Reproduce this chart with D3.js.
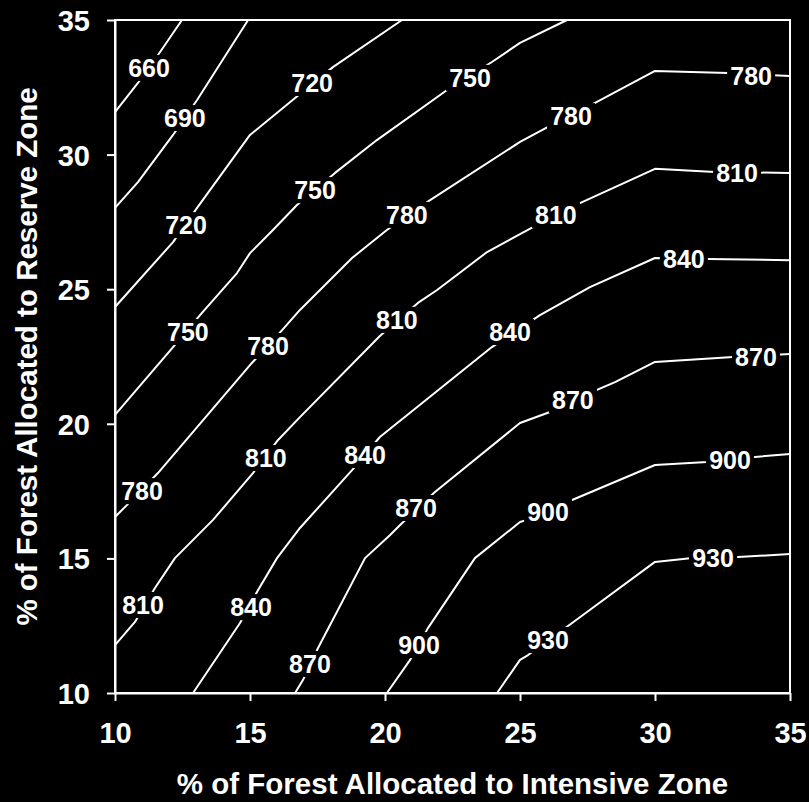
<!DOCTYPE html>
<html>
<head>
<meta charset="utf-8">
<script src="https://cdn.jsdelivr.net/npm/d3@7"></script>
<style>
  html, body { margin: 0; padding: 0; background: #000; }
  svg { display: block; }
  text { font-family: "Liberation Sans", Arial, sans-serif; font-weight: bold; fill: #fff; }
</style>
</head>
<body>
<script>
// ---- Data (x = % Intensive Zone, y = % Reserve Zone) ----
const xTicks = [10, 15, 20, 25, 30, 35];
const yTicks = [10, 15, 20, 25, 30, 35];
const levels = [660, 690, 720, 750, 780, 810, 840, 870, 900, 930];

const line660 = [[10, 31.58], [10.85, 32.66], [11.67, 33.81], [12.48, 35]];
const line690 = [[10, 28.02], [10.85, 28.98], [12.15, 30.73], [13.04, 32.03], [14.93, 35]];
const line720 = [[10, 24.34], [12.15, 26.75], [13.04, 28.02], [15.0, 30.73], [16.67, 32.10], [18.07, 33.25], [20.63, 35]];
const line750 = [[10, 20.33], [12.15, 22.85], [13.22, 24.12], [14.52, 25.60], [15.0, 26.34], [15.85, 27.20], [16.74, 28.13], [18.15, 29.32], [19.70, 30.54], [22.30, 32.40], [23.96, 33.44], [25.0, 34.15], [26.74, 35]];
const line780 = [[10, 16.54], [10.44, 16.98], [11.59, 18.17], [15.07, 22.26], [16.19, 23.48], [16.85, 24.23], [18.78, 26.16], [20.07, 27.20], [21.67, 28.31], [25.0, 30.47], [26.04, 31.03], [27.78, 31.92], [30.0, 33.11], [32.70, 33.03], [35, 32.92]];
const line810 = [[10, 11.78], [10.74, 12.64], [11.48, 13.90], [12.22, 15.01], [13.63, 16.43], [15.11, 18.17], [16.04, 19.40], [16.85, 20.25], [19.81, 23.26], [21.22, 24.49], [21.93, 24.97], [23.78, 26.38], [25.48, 27.31], [27.22, 28.20], [30.0, 29.47], [32.22, 29.35], [35, 29.32]];
const line840 = [[12.89, 10], [14.63, 12.60], [15.30, 13.83], [16.0, 15.01], [16.85, 16.13], [18.78, 18.28], [19.81, 19.51], [23.96, 22.85], [25.74, 24.04], [27.59, 25.08], [30.0, 26.16], [31.96, 26.12], [35, 26.08]];
const line870 = [[16.67, 10], [16.96, 10.48], [17.52, 11.67], [19.26, 15.01], [20.19, 15.87], [20.56, 16.24], [21.85, 17.47], [25.0, 20.03], [26.11, 20.44], [27.85, 21.26], [28.52, 21.55], [30.0, 22.30], [32.89, 22.48], [35, 22.59]];
const line900 = [[20.07, 10], [20.93, 11.23], [21.59, 12.41], [23.33, 15.01], [25.0, 16.35], [25.26, 16.43], [26.93, 17.17], [30.0, 18.47], [31.93, 18.58], [33.70, 18.77], [35, 18.88]];
const line930 = [[24.15, 10], [25.0, 11.23], [25.30, 11.41], [26.93, 12.60], [30.0, 14.87], [31.30, 15.01], [33.07, 15.05], [35, 15.16]];

const labels660 = [[11.26, 33.22]];
const labels690 = [[12.59, 31.36]];
const labels720 = [[12.63, 27.38], [17.30, 32.66]];
const labels750 = [[12.70, 23.41], [17.41, 28.68], [23.15, 32.85]];
const labels780 = [[11.00, 17.50], [15.67, 22.89], [20.81, 27.76], [26.89, 31.43], [33.56, 32.92]];
const labels810 = [[11.04, 13.27], [15.59, 18.73], [20.44, 23.86], [26.33, 27.76], [33.04, 29.32]];
const labels840 = [[15.04, 13.19], [19.26, 18.84], [24.63, 23.41], [31.07, 26.12]];
const labels870 = [[17.22, 11.08], [21.15, 16.87], [26.96, 20.88], [33.74, 22.48]];
const labels900 = [[21.26, 11.78], [26.04, 16.72], [32.78, 18.66]];
const labels930 = [[26.04, 11.97], [32.15, 15.01]];

const xTitle = "% of Forest Allocated to Intensive Zone";
const yTitle = "% of Forest Allocated to Reserve Zone";

const contourLines = [line660, line690, line720, line750, line780, line810, line840, line870, line900, line930];
const contourLabels = [labels660, labels690, labels720, labels750, labels780, labels810, labels840, labels870, labels900, labels930];

// ---- Layout ----
const W = 809, H = 802;
const mLeft = 115, mRight = 790, mTop = 20, mBottom = 693;

const svg = d3.select("body").append("svg").attr("width", W).attr("height", H);
svg.append("rect").attr("width", W).attr("height", H).attr("fill", "#000");

const x = d3.scaleLinear().domain([10, 35]).range([mLeft, mRight]);
const y = d3.scaleLinear().domain([10, 35]).range([mBottom, mTop]);

const lineGen = d3.line().x(d => x(d[0])).y(d => y(d[1]));

const plot = svg.append("g");
levels.forEach((lv, i) => {
  plot.append("path")
    .attr("d", lineGen(contourLines[i]))
    .attr("fill", "none")
    .attr("stroke", "#fff")
    .attr("stroke-width", 2)
    .attr("stroke-linejoin", "round");
});

const lab = svg.append("g");
levels.forEach((lv, i) => {
  contourLabels[i].forEach(p => {
    const cx = x(p[0]), cy = y(p[1]);
    lab.append("rect")
      .attr("x", cx - 24).attr("y", cy - 13)
      .attr("width", 48).attr("height", 26)
      .attr("fill", "#000");
    lab.append("text")
      .attr("x", cx).attr("y", cy + 9)
      .attr("text-anchor", "middle")
      .attr("font-size", 25)
      .text(lv);
  });
});

// Frame
svg.append("rect")
  .attr("x", mLeft).attr("y", mTop)
  .attr("width", mRight - mLeft).attr("height", mBottom - mTop)
  .attr("fill", "none").attr("stroke", "#fff").attr("stroke-width", 2);

// Axes
const xAxis = d3.axisBottom(x).tickValues(xTicks).tickSize(8).tickPadding(21).tickSizeOuter(0);
const yAxis = d3.axisLeft(y).tickValues(yTicks).tickSize(8).tickPadding(17).tickSizeOuter(0);

const gx = svg.append("g").attr("transform", `translate(0,${mBottom})`).call(xAxis);
const gy = svg.append("g").attr("transform", `translate(${mLeft},0)`).call(yAxis);
[gx, gy].forEach(g => {
  g.select(".domain").attr("stroke", "#fff").attr("stroke-width", 2);
  g.selectAll(".tick line").attr("stroke", "#fff").attr("stroke-width", 2);
  g.selectAll(".tick text")
    .attr("fill", "#fff")
    .attr("font-size", 29)
    .attr("font-family", "'Liberation Sans', Arial, sans-serif")
    .attr("font-weight", "bold");
});
gy.selectAll(".tick text").attr("dy", "0.36em");

// Titles
svg.append("text")
  .attr("x", (mLeft + mRight) / 2).attr("y", 794)
  .attr("text-anchor", "middle")
  .attr("font-size", 29.5)
  .text(xTitle);

svg.append("text")
  .attr("transform", `translate(37,${(mTop + mBottom) / 2}) rotate(-90)`)
  .attr("text-anchor", "middle")
  .attr("font-size", 29.5)
  .text(yTitle);
</script>
</body>
</html>
